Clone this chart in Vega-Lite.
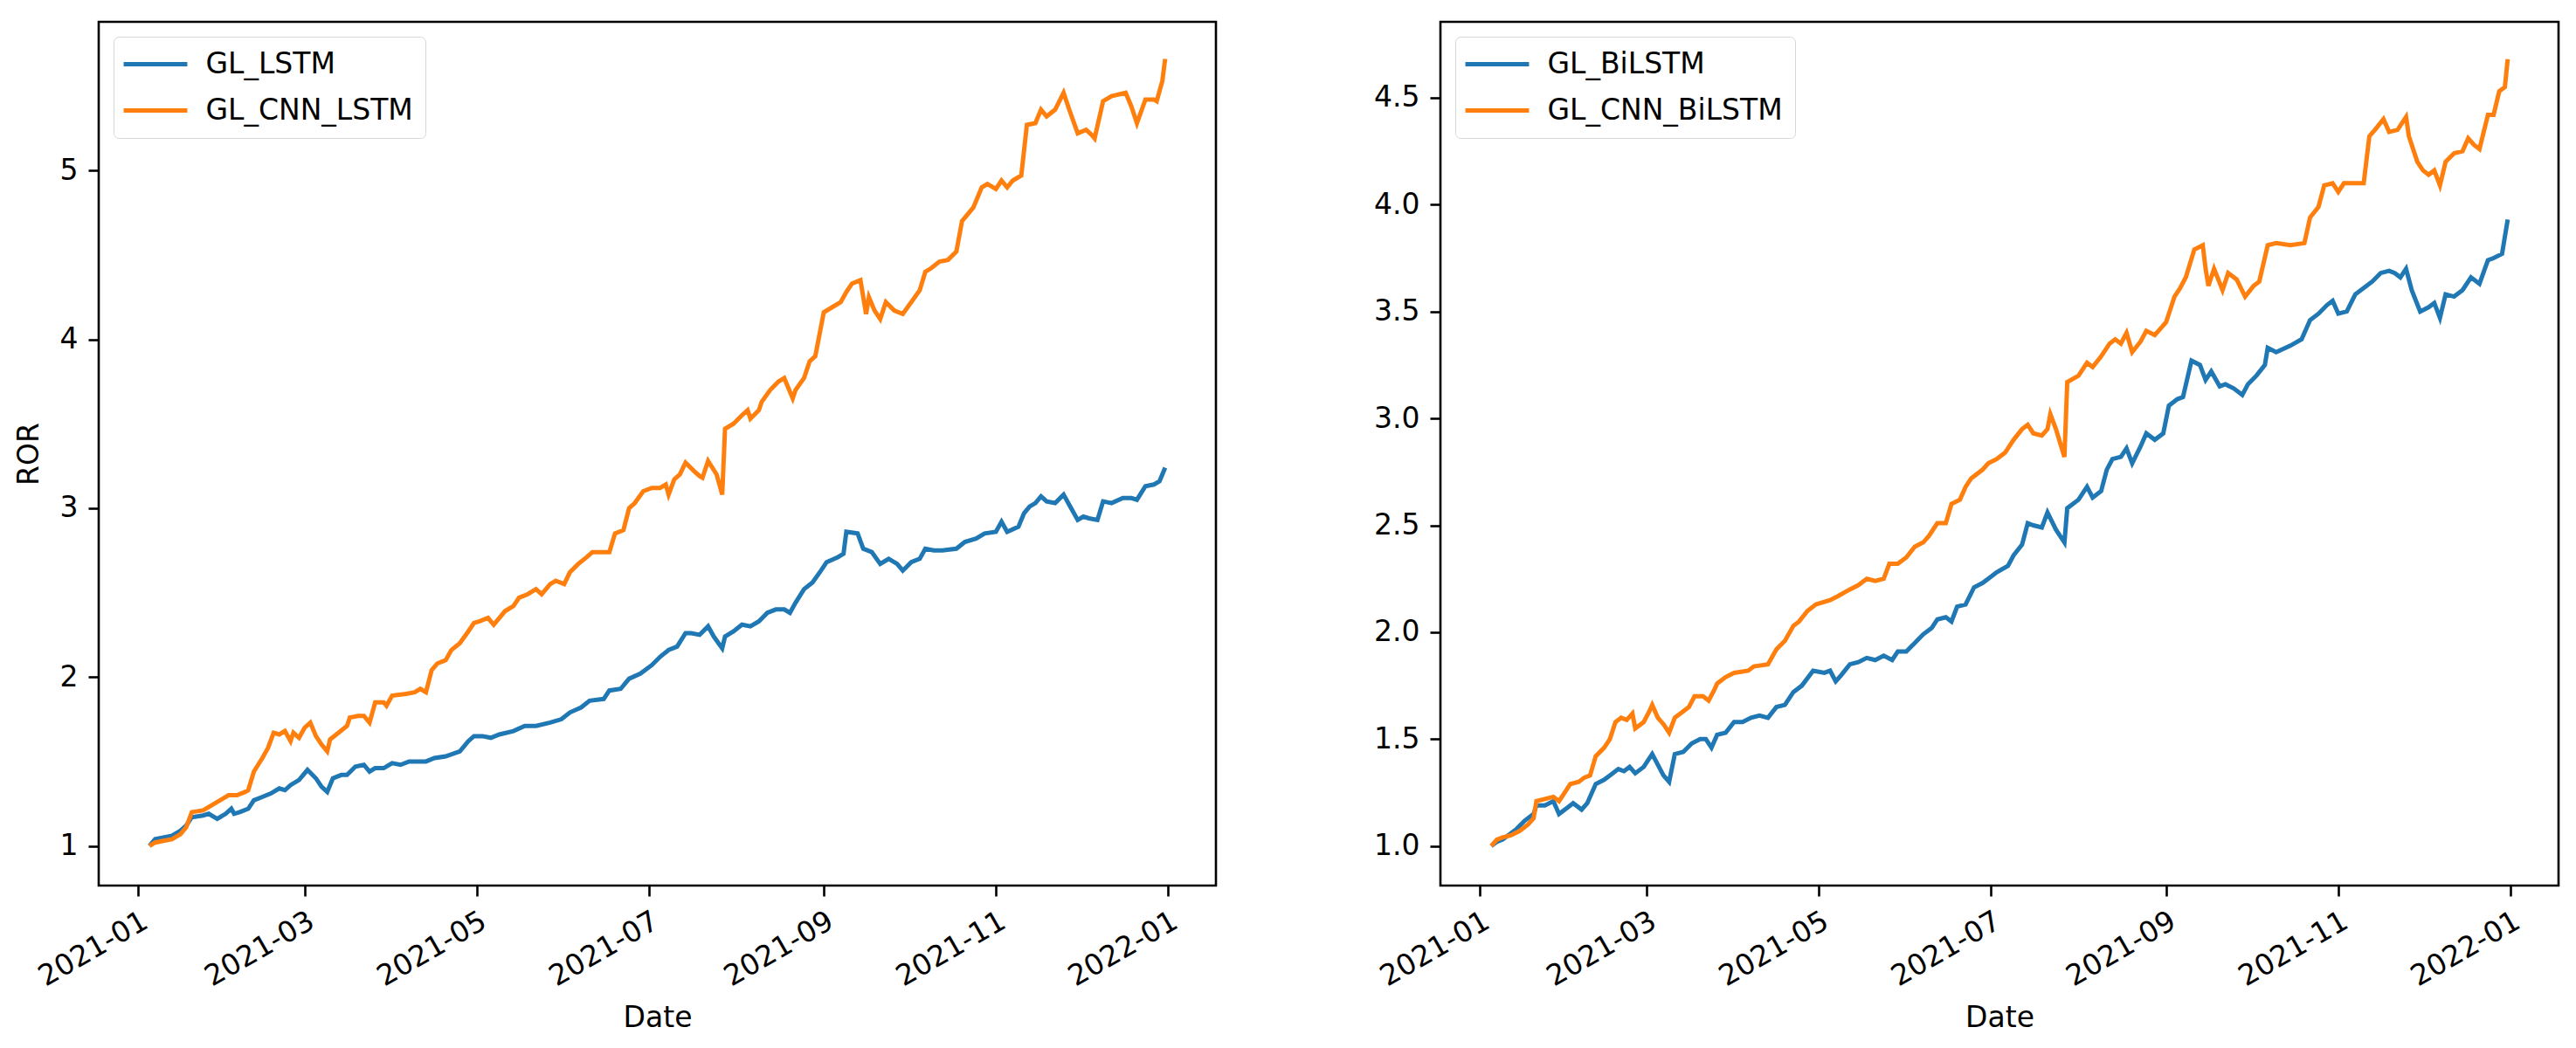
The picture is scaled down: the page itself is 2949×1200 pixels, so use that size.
{
  "$schema": "https://vega.github.io/schema/vega-lite/v6.json",
  "background": "white",
  "padding": {"left": 15, "top": 23, "right": 0, "bottom": 0},
  "config": {
    "font": "DejaVu Sans",
    "view": {"stroke": "black", "strokeWidth": 2.6},
    "axis": {"domain": false, "grid": false, "tickColor": "black", "tickWidth": 2.6, "tickSize": 12, "labelFont": "DejaVu Sans", "labelFontSize": 33, "labelColor": "black", "titleFont": "DejaVu Sans", "titleFontSize": 33, "titleFontWeight": "normal", "titleColor": "black", "labelPadding": 12},
    "legend": {"title": null, "orient": "top-left", "offset": 17, "symbolType": "M-2.43,0H2.43", "symbolStrokeWidth": 5, "symbolSize": 900, "symbolOffset": 16.5, "labelFont": "DejaVu Sans", "labelFontSize": 33, "labelColor": "black", "labelLimit": 1000, "strokeColor": "#d6d6d6", "fillColor": "white", "padding": 14, "cornerRadius": 6, "rowPadding": 18, "labelOffset": 40}
  },
  "datasets": {
    "left": [
      {"date":"2021-01-05","model":"GL_LSTM","ror":1.00},{"date":"2021-01-07","model":"GL_LSTM","ror":1.04},{"date":"2021-01-10","model":"GL_LSTM","ror":1.05},{"date":"2021-01-13","model":"GL_LSTM","ror":1.06},{"date":"2021-01-16","model":"GL_LSTM","ror":1.09},{"date":"2021-01-18","model":"GL_LSTM","ror":1.12},{"date":"2021-01-20","model":"GL_LSTM","ror":1.17},{"date":"2021-01-24","model":"GL_LSTM","ror":1.18},{"date":"2021-01-26","model":"GL_LSTM","ror":1.19},{"date":"2021-01-29","model":"GL_LSTM","ror":1.16},
      {"date":"2021-02-01","model":"GL_LSTM","ror":1.19},{"date":"2021-02-03","model":"GL_LSTM","ror":1.22},{"date":"2021-02-04","model":"GL_LSTM","ror":1.19},{"date":"2021-02-06","model":"GL_LSTM","ror":1.20},{"date":"2021-02-09","model":"GL_LSTM","ror":1.22},{"date":"2021-02-11","model":"GL_LSTM","ror":1.27},{"date":"2021-02-14","model":"GL_LSTM","ror":1.29},{"date":"2021-02-17","model":"GL_LSTM","ror":1.31},{"date":"2021-02-20","model":"GL_LSTM","ror":1.34},{"date":"2021-02-22","model":"GL_LSTM","ror":1.33},{"date":"2021-02-24","model":"GL_LSTM","ror":1.36},{"date":"2021-02-27","model":"GL_LSTM","ror":1.39},
      {"date":"2021-03-02","model":"GL_LSTM","ror":1.45},{"date":"2021-03-05","model":"GL_LSTM","ror":1.40},{"date":"2021-03-07","model":"GL_LSTM","ror":1.35},{"date":"2021-03-09","model":"GL_LSTM","ror":1.32},{"date":"2021-03-11","model":"GL_LSTM","ror":1.40},{"date":"2021-03-14","model":"GL_LSTM","ror":1.42},{"date":"2021-03-16","model":"GL_LSTM","ror":1.42},{"date":"2021-03-19","model":"GL_LSTM","ror":1.47},{"date":"2021-03-22","model":"GL_LSTM","ror":1.48},{"date":"2021-03-24","model":"GL_LSTM","ror":1.44},{"date":"2021-03-26","model":"GL_LSTM","ror":1.46},{"date":"2021-03-29","model":"GL_LSTM","ror":1.46},
      {"date":"2021-04-01","model":"GL_LSTM","ror":1.49},{"date":"2021-04-04","model":"GL_LSTM","ror":1.48},{"date":"2021-04-07","model":"GL_LSTM","ror":1.50},{"date":"2021-04-10","model":"GL_LSTM","ror":1.50},{"date":"2021-04-13","model":"GL_LSTM","ror":1.50},{"date":"2021-04-16","model":"GL_LSTM","ror":1.52},{"date":"2021-04-20","model":"GL_LSTM","ror":1.53},{"date":"2021-04-25","model":"GL_LSTM","ror":1.56},{"date":"2021-04-28","model":"GL_LSTM","ror":1.62},{"date":"2021-04-30","model":"GL_LSTM","ror":1.65},
      {"date":"2021-05-03","model":"GL_LSTM","ror":1.65},{"date":"2021-05-06","model":"GL_LSTM","ror":1.64},{"date":"2021-05-09","model":"GL_LSTM","ror":1.66},{"date":"2021-05-14","model":"GL_LSTM","ror":1.68},{"date":"2021-05-18","model":"GL_LSTM","ror":1.71},{"date":"2021-05-22","model":"GL_LSTM","ror":1.71},{"date":"2021-05-27","model":"GL_LSTM","ror":1.73},{"date":"2021-05-31","model":"GL_LSTM","ror":1.75},
      {"date":"2021-06-03","model":"GL_LSTM","ror":1.79},{"date":"2021-06-07","model":"GL_LSTM","ror":1.82},{"date":"2021-06-10","model":"GL_LSTM","ror":1.86},{"date":"2021-06-15","model":"GL_LSTM","ror":1.87},{"date":"2021-06-17","model":"GL_LSTM","ror":1.92},{"date":"2021-06-21","model":"GL_LSTM","ror":1.93},{"date":"2021-06-24","model":"GL_LSTM","ror":1.99},{"date":"2021-06-28","model":"GL_LSTM","ror":2.02},
      {"date":"2021-07-02","model":"GL_LSTM","ror":2.07},{"date":"2021-07-05","model":"GL_LSTM","ror":2.12},{"date":"2021-07-08","model":"GL_LSTM","ror":2.16},{"date":"2021-07-11","model":"GL_LSTM","ror":2.18},{"date":"2021-07-14","model":"GL_LSTM","ror":2.26},{"date":"2021-07-16","model":"GL_LSTM","ror":2.26},{"date":"2021-07-19","model":"GL_LSTM","ror":2.25},{"date":"2021-07-22","model":"GL_LSTM","ror":2.30},{"date":"2021-07-24","model":"GL_LSTM","ror":2.24},{"date":"2021-07-27","model":"GL_LSTM","ror":2.17},{"date":"2021-07-28","model":"GL_LSTM","ror":2.24},{"date":"2021-07-31","model":"GL_LSTM","ror":2.27},
      {"date":"2021-08-03","model":"GL_LSTM","ror":2.31},{"date":"2021-08-06","model":"GL_LSTM","ror":2.30},{"date":"2021-08-09","model":"GL_LSTM","ror":2.33},{"date":"2021-08-12","model":"GL_LSTM","ror":2.38},{"date":"2021-08-15","model":"GL_LSTM","ror":2.40},{"date":"2021-08-18","model":"GL_LSTM","ror":2.40},{"date":"2021-08-20","model":"GL_LSTM","ror":2.38},{"date":"2021-08-22","model":"GL_LSTM","ror":2.44},{"date":"2021-08-25","model":"GL_LSTM","ror":2.52},{"date":"2021-08-28","model":"GL_LSTM","ror":2.56},{"date":"2021-08-31","model":"GL_LSTM","ror":2.63},
      {"date":"2021-09-02","model":"GL_LSTM","ror":2.68},{"date":"2021-09-06","model":"GL_LSTM","ror":2.71},{"date":"2021-09-08","model":"GL_LSTM","ror":2.73},{"date":"2021-09-09","model":"GL_LSTM","ror":2.86},{"date":"2021-09-13","model":"GL_LSTM","ror":2.85},{"date":"2021-09-15","model":"GL_LSTM","ror":2.76},{"date":"2021-09-18","model":"GL_LSTM","ror":2.74},{"date":"2021-09-21","model":"GL_LSTM","ror":2.67},{"date":"2021-09-24","model":"GL_LSTM","ror":2.70},{"date":"2021-09-27","model":"GL_LSTM","ror":2.67},{"date":"2021-09-29","model":"GL_LSTM","ror":2.63},
      {"date":"2021-10-02","model":"GL_LSTM","ror":2.68},{"date":"2021-10-05","model":"GL_LSTM","ror":2.70},{"date":"2021-10-07","model":"GL_LSTM","ror":2.76},{"date":"2021-10-10","model":"GL_LSTM","ror":2.75},{"date":"2021-10-13","model":"GL_LSTM","ror":2.75},{"date":"2021-10-18","model":"GL_LSTM","ror":2.76},{"date":"2021-10-21","model":"GL_LSTM","ror":2.80},{"date":"2021-10-25","model":"GL_LSTM","ror":2.82},{"date":"2021-10-28","model":"GL_LSTM","ror":2.85},
      {"date":"2021-11-01","model":"GL_LSTM","ror":2.86},{"date":"2021-11-03","model":"GL_LSTM","ror":2.92},{"date":"2021-11-05","model":"GL_LSTM","ror":2.86},{"date":"2021-11-09","model":"GL_LSTM","ror":2.89},{"date":"2021-11-11","model":"GL_LSTM","ror":2.97},{"date":"2021-11-13","model":"GL_LSTM","ror":3.01},{"date":"2021-11-15","model":"GL_LSTM","ror":3.03},{"date":"2021-11-17","model":"GL_LSTM","ror":3.07},{"date":"2021-11-19","model":"GL_LSTM","ror":3.04},{"date":"2021-11-22","model":"GL_LSTM","ror":3.03},{"date":"2021-11-25","model":"GL_LSTM","ror":3.08},{"date":"2021-11-27","model":"GL_LSTM","ror":3.02},{"date":"2021-11-30","model":"GL_LSTM","ror":2.93},
      {"date":"2021-12-02","model":"GL_LSTM","ror":2.95},{"date":"2021-12-04","model":"GL_LSTM","ror":2.94},{"date":"2021-12-07","model":"GL_LSTM","ror":2.93},{"date":"2021-12-09","model":"GL_LSTM","ror":3.04},{"date":"2021-12-12","model":"GL_LSTM","ror":3.03},{"date":"2021-12-16","model":"GL_LSTM","ror":3.06},{"date":"2021-12-19","model":"GL_LSTM","ror":3.06},{"date":"2021-12-21","model":"GL_LSTM","ror":3.05},{"date":"2021-12-24","model":"GL_LSTM","ror":3.13},{"date":"2021-12-27","model":"GL_LSTM","ror":3.14},{"date":"2021-12-29","model":"GL_LSTM","ror":3.16},{"date":"2021-12-31","model":"GL_LSTM","ror":3.24},

      {"date":"2021-01-05","model":"GL_CNN_LSTM","ror":1.00},{"date":"2021-01-07","model":"GL_CNN_LSTM","ror":1.02},{"date":"2021-01-10","model":"GL_CNN_LSTM","ror":1.03},{"date":"2021-01-13","model":"GL_CNN_LSTM","ror":1.04},{"date":"2021-01-16","model":"GL_CNN_LSTM","ror":1.07},{"date":"2021-01-18","model":"GL_CNN_LSTM","ror":1.11},{"date":"2021-01-20","model":"GL_CNN_LSTM","ror":1.20},{"date":"2021-01-24","model":"GL_CNN_LSTM","ror":1.21},{"date":"2021-01-27","model":"GL_CNN_LSTM","ror":1.24},{"date":"2021-01-30","model":"GL_CNN_LSTM","ror":1.27},
      {"date":"2021-02-02","model":"GL_CNN_LSTM","ror":1.30},{"date":"2021-02-05","model":"GL_CNN_LSTM","ror":1.30},{"date":"2021-02-08","model":"GL_CNN_LSTM","ror":1.32},{"date":"2021-02-09","model":"GL_CNN_LSTM","ror":1.33},{"date":"2021-02-11","model":"GL_CNN_LSTM","ror":1.44},{"date":"2021-02-14","model":"GL_CNN_LSTM","ror":1.52},{"date":"2021-02-16","model":"GL_CNN_LSTM","ror":1.58},{"date":"2021-02-18","model":"GL_CNN_LSTM","ror":1.67},{"date":"2021-02-20","model":"GL_CNN_LSTM","ror":1.66},{"date":"2021-02-22","model":"GL_CNN_LSTM","ror":1.68},{"date":"2021-02-24","model":"GL_CNN_LSTM","ror":1.62},{"date":"2021-02-25","model":"GL_CNN_LSTM","ror":1.67},{"date":"2021-02-27","model":"GL_CNN_LSTM","ror":1.64},
      {"date":"2021-03-01","model":"GL_CNN_LSTM","ror":1.70},{"date":"2021-03-03","model":"GL_CNN_LSTM","ror":1.73},{"date":"2021-03-05","model":"GL_CNN_LSTM","ror":1.65},{"date":"2021-03-07","model":"GL_CNN_LSTM","ror":1.60},{"date":"2021-03-09","model":"GL_CNN_LSTM","ror":1.56},{"date":"2021-03-10","model":"GL_CNN_LSTM","ror":1.63},{"date":"2021-03-13","model":"GL_CNN_LSTM","ror":1.67},{"date":"2021-03-16","model":"GL_CNN_LSTM","ror":1.71},{"date":"2021-03-17","model":"GL_CNN_LSTM","ror":1.76},{"date":"2021-03-20","model":"GL_CNN_LSTM","ror":1.77},{"date":"2021-03-22","model":"GL_CNN_LSTM","ror":1.77},{"date":"2021-03-24","model":"GL_CNN_LSTM","ror":1.73},{"date":"2021-03-26","model":"GL_CNN_LSTM","ror":1.85},{"date":"2021-03-29","model":"GL_CNN_LSTM","ror":1.85},{"date":"2021-03-30","model":"GL_CNN_LSTM","ror":1.83},
      {"date":"2021-04-01","model":"GL_CNN_LSTM","ror":1.89},{"date":"2021-04-06","model":"GL_CNN_LSTM","ror":1.90},{"date":"2021-04-09","model":"GL_CNN_LSTM","ror":1.91},{"date":"2021-04-11","model":"GL_CNN_LSTM","ror":1.93},{"date":"2021-04-13","model":"GL_CNN_LSTM","ror":1.91},{"date":"2021-04-15","model":"GL_CNN_LSTM","ror":2.04},{"date":"2021-04-17","model":"GL_CNN_LSTM","ror":2.08},{"date":"2021-04-20","model":"GL_CNN_LSTM","ror":2.10},{"date":"2021-04-22","model":"GL_CNN_LSTM","ror":2.16},{"date":"2021-04-25","model":"GL_CNN_LSTM","ror":2.20},{"date":"2021-04-28","model":"GL_CNN_LSTM","ror":2.27},{"date":"2021-04-30","model":"GL_CNN_LSTM","ror":2.32},
      {"date":"2021-05-02","model":"GL_CNN_LSTM","ror":2.33},{"date":"2021-05-05","model":"GL_CNN_LSTM","ror":2.35},{"date":"2021-05-07","model":"GL_CNN_LSTM","ror":2.31},{"date":"2021-05-09","model":"GL_CNN_LSTM","ror":2.35},{"date":"2021-05-11","model":"GL_CNN_LSTM","ror":2.39},{"date":"2021-05-14","model":"GL_CNN_LSTM","ror":2.42},{"date":"2021-05-16","model":"GL_CNN_LSTM","ror":2.47},{"date":"2021-05-19","model":"GL_CNN_LSTM","ror":2.49},{"date":"2021-05-22","model":"GL_CNN_LSTM","ror":2.52},{"date":"2021-05-24","model":"GL_CNN_LSTM","ror":2.49},{"date":"2021-05-27","model":"GL_CNN_LSTM","ror":2.55},{"date":"2021-05-29","model":"GL_CNN_LSTM","ror":2.57},
      {"date":"2021-06-01","model":"GL_CNN_LSTM","ror":2.55},{"date":"2021-06-03","model":"GL_CNN_LSTM","ror":2.62},{"date":"2021-06-06","model":"GL_CNN_LSTM","ror":2.67},{"date":"2021-06-09","model":"GL_CNN_LSTM","ror":2.71},{"date":"2021-06-11","model":"GL_CNN_LSTM","ror":2.74},{"date":"2021-06-15","model":"GL_CNN_LSTM","ror":2.74},{"date":"2021-06-17","model":"GL_CNN_LSTM","ror":2.74},{"date":"2021-06-19","model":"GL_CNN_LSTM","ror":2.85},{"date":"2021-06-22","model":"GL_CNN_LSTM","ror":2.87},{"date":"2021-06-24","model":"GL_CNN_LSTM","ror":3.00},{"date":"2021-06-26","model":"GL_CNN_LSTM","ror":3.03},{"date":"2021-06-29","model":"GL_CNN_LSTM","ror":3.10},
      {"date":"2021-07-02","model":"GL_CNN_LSTM","ror":3.12},{"date":"2021-07-05","model":"GL_CNN_LSTM","ror":3.12},{"date":"2021-07-07","model":"GL_CNN_LSTM","ror":3.14},{"date":"2021-07-08","model":"GL_CNN_LSTM","ror":3.08},{"date":"2021-07-10","model":"GL_CNN_LSTM","ror":3.17},{"date":"2021-07-12","model":"GL_CNN_LSTM","ror":3.20},{"date":"2021-07-14","model":"GL_CNN_LSTM","ror":3.27},{"date":"2021-07-17","model":"GL_CNN_LSTM","ror":3.22},{"date":"2021-07-19","model":"GL_CNN_LSTM","ror":3.19},{"date":"2021-07-20","model":"GL_CNN_LSTM","ror":3.18},{"date":"2021-07-22","model":"GL_CNN_LSTM","ror":3.28},{"date":"2021-07-25","model":"GL_CNN_LSTM","ror":3.20},{"date":"2021-07-27","model":"GL_CNN_LSTM","ror":3.08},{"date":"2021-07-28","model":"GL_CNN_LSTM","ror":3.47},{"date":"2021-07-31","model":"GL_CNN_LSTM","ror":3.50},
      {"date":"2021-08-03","model":"GL_CNN_LSTM","ror":3.55},{"date":"2021-08-05","model":"GL_CNN_LSTM","ror":3.58},{"date":"2021-08-06","model":"GL_CNN_LSTM","ror":3.53},{"date":"2021-08-09","model":"GL_CNN_LSTM","ror":3.58},{"date":"2021-08-10","model":"GL_CNN_LSTM","ror":3.63},{"date":"2021-08-13","model":"GL_CNN_LSTM","ror":3.70},{"date":"2021-08-16","model":"GL_CNN_LSTM","ror":3.75},{"date":"2021-08-18","model":"GL_CNN_LSTM","ror":3.77},{"date":"2021-08-19","model":"GL_CNN_LSTM","ror":3.73},{"date":"2021-08-21","model":"GL_CNN_LSTM","ror":3.65},{"date":"2021-08-22","model":"GL_CNN_LSTM","ror":3.70},{"date":"2021-08-25","model":"GL_CNN_LSTM","ror":3.77},{"date":"2021-08-27","model":"GL_CNN_LSTM","ror":3.87},{"date":"2021-08-29","model":"GL_CNN_LSTM","ror":3.90},
      {"date":"2021-09-01","model":"GL_CNN_LSTM","ror":4.16},{"date":"2021-09-04","model":"GL_CNN_LSTM","ror":4.19},{"date":"2021-09-07","model":"GL_CNN_LSTM","ror":4.22},{"date":"2021-09-09","model":"GL_CNN_LSTM","ror":4.28},{"date":"2021-09-11","model":"GL_CNN_LSTM","ror":4.33},{"date":"2021-09-14","model":"GL_CNN_LSTM","ror":4.35},{"date":"2021-09-16","model":"GL_CNN_LSTM","ror":4.15},{"date":"2021-09-17","model":"GL_CNN_LSTM","ror":4.25},{"date":"2021-09-19","model":"GL_CNN_LSTM","ror":4.17},{"date":"2021-09-21","model":"GL_CNN_LSTM","ror":4.12},{"date":"2021-09-23","model":"GL_CNN_LSTM","ror":4.22},{"date":"2021-09-26","model":"GL_CNN_LSTM","ror":4.17},{"date":"2021-09-29","model":"GL_CNN_LSTM","ror":4.15},
      {"date":"2021-10-02","model":"GL_CNN_LSTM","ror":4.22},{"date":"2021-10-05","model":"GL_CNN_LSTM","ror":4.29},{"date":"2021-10-07","model":"GL_CNN_LSTM","ror":4.40},{"date":"2021-10-09","model":"GL_CNN_LSTM","ror":4.42},{"date":"2021-10-12","model":"GL_CNN_LSTM","ror":4.46},{"date":"2021-10-15","model":"GL_CNN_LSTM","ror":4.47},{"date":"2021-10-18","model":"GL_CNN_LSTM","ror":4.52},{"date":"2021-10-20","model":"GL_CNN_LSTM","ror":4.70},{"date":"2021-10-24","model":"GL_CNN_LSTM","ror":4.78},{"date":"2021-10-27","model":"GL_CNN_LSTM","ror":4.90},{"date":"2021-10-29","model":"GL_CNN_LSTM","ror":4.92},
      {"date":"2021-11-01","model":"GL_CNN_LSTM","ror":4.89},{"date":"2021-11-03","model":"GL_CNN_LSTM","ror":4.94},{"date":"2021-11-05","model":"GL_CNN_LSTM","ror":4.90},{"date":"2021-11-07","model":"GL_CNN_LSTM","ror":4.94},{"date":"2021-11-10","model":"GL_CNN_LSTM","ror":4.97},{"date":"2021-11-12","model":"GL_CNN_LSTM","ror":5.27},{"date":"2021-11-15","model":"GL_CNN_LSTM","ror":5.28},{"date":"2021-11-17","model":"GL_CNN_LSTM","ror":5.36},{"date":"2021-11-19","model":"GL_CNN_LSTM","ror":5.32},{"date":"2021-11-22","model":"GL_CNN_LSTM","ror":5.36},{"date":"2021-11-25","model":"GL_CNN_LSTM","ror":5.46},{"date":"2021-11-27","model":"GL_CNN_LSTM","ror":5.36},{"date":"2021-11-30","model":"GL_CNN_LSTM","ror":5.22},
      {"date":"2021-12-03","model":"GL_CNN_LSTM","ror":5.24},{"date":"2021-12-05","model":"GL_CNN_LSTM","ror":5.21},{"date":"2021-12-06","model":"GL_CNN_LSTM","ror":5.19},{"date":"2021-12-09","model":"GL_CNN_LSTM","ror":5.41},{"date":"2021-12-12","model":"GL_CNN_LSTM","ror":5.44},{"date":"2021-12-17","model":"GL_CNN_LSTM","ror":5.46},{"date":"2021-12-19","model":"GL_CNN_LSTM","ror":5.38},{"date":"2021-12-21","model":"GL_CNN_LSTM","ror":5.28},{"date":"2021-12-24","model":"GL_CNN_LSTM","ror":5.42},{"date":"2021-12-27","model":"GL_CNN_LSTM","ror":5.42},{"date":"2021-12-28","model":"GL_CNN_LSTM","ror":5.41},{"date":"2021-12-30","model":"GL_CNN_LSTM","ror":5.53},{"date":"2021-12-31","model":"GL_CNN_LSTM","ror":5.66}
    ],
    "right": [
      {"date":"2021-01-05","model":"GL_BiLSTM","ror":1.00},{"date":"2021-01-07","model":"GL_BiLSTM","ror":1.02},{"date":"2021-01-09","model":"GL_BiLSTM","ror":1.03},{"date":"2021-01-11","model":"GL_BiLSTM","ror":1.05},{"date":"2021-01-14","model":"GL_BiLSTM","ror":1.08},{"date":"2021-01-17","model":"GL_BiLSTM","ror":1.12},{"date":"2021-01-20","model":"GL_BiLSTM","ror":1.15},{"date":"2021-01-21","model":"GL_BiLSTM","ror":1.19},{"date":"2021-01-24","model":"GL_BiLSTM","ror":1.19},{"date":"2021-01-27","model":"GL_BiLSTM","ror":1.21},{"date":"2021-01-29","model":"GL_BiLSTM","ror":1.15},
      {"date":"2021-02-01","model":"GL_BiLSTM","ror":1.18},{"date":"2021-02-03","model":"GL_BiLSTM","ror":1.20},{"date":"2021-02-06","model":"GL_BiLSTM","ror":1.17},{"date":"2021-02-08","model":"GL_BiLSTM","ror":1.20},{"date":"2021-02-11","model":"GL_BiLSTM","ror":1.29},{"date":"2021-02-14","model":"GL_BiLSTM","ror":1.31},{"date":"2021-02-16","model":"GL_BiLSTM","ror":1.33},{"date":"2021-02-19","model":"GL_BiLSTM","ror":1.36},{"date":"2021-02-21","model":"GL_BiLSTM","ror":1.35},{"date":"2021-02-23","model":"GL_BiLSTM","ror":1.37},{"date":"2021-02-25","model":"GL_BiLSTM","ror":1.34},{"date":"2021-02-28","model":"GL_BiLSTM","ror":1.37},
      {"date":"2021-03-03","model":"GL_BiLSTM","ror":1.43},{"date":"2021-03-05","model":"GL_BiLSTM","ror":1.38},{"date":"2021-03-07","model":"GL_BiLSTM","ror":1.33},{"date":"2021-03-09","model":"GL_BiLSTM","ror":1.30},{"date":"2021-03-11","model":"GL_BiLSTM","ror":1.43},{"date":"2021-03-14","model":"GL_BiLSTM","ror":1.44},{"date":"2021-03-17","model":"GL_BiLSTM","ror":1.48},{"date":"2021-03-20","model":"GL_BiLSTM","ror":1.50},{"date":"2021-03-22","model":"GL_BiLSTM","ror":1.50},{"date":"2021-03-24","model":"GL_BiLSTM","ror":1.46},{"date":"2021-03-26","model":"GL_BiLSTM","ror":1.52},{"date":"2021-03-29","model":"GL_BiLSTM","ror":1.53},
      {"date":"2021-04-01","model":"GL_BiLSTM","ror":1.58},{"date":"2021-04-04","model":"GL_BiLSTM","ror":1.58},{"date":"2021-04-07","model":"GL_BiLSTM","ror":1.60},{"date":"2021-04-10","model":"GL_BiLSTM","ror":1.61},{"date":"2021-04-13","model":"GL_BiLSTM","ror":1.60},{"date":"2021-04-16","model":"GL_BiLSTM","ror":1.65},{"date":"2021-04-19","model":"GL_BiLSTM","ror":1.66},{"date":"2021-04-22","model":"GL_BiLSTM","ror":1.72},{"date":"2021-04-25","model":"GL_BiLSTM","ror":1.75},{"date":"2021-04-29","model":"GL_BiLSTM","ror":1.82},
      {"date":"2021-05-03","model":"GL_BiLSTM","ror":1.81},{"date":"2021-05-05","model":"GL_BiLSTM","ror":1.82},{"date":"2021-05-07","model":"GL_BiLSTM","ror":1.77},{"date":"2021-05-09","model":"GL_BiLSTM","ror":1.80},{"date":"2021-05-12","model":"GL_BiLSTM","ror":1.85},{"date":"2021-05-15","model":"GL_BiLSTM","ror":1.86},{"date":"2021-05-18","model":"GL_BiLSTM","ror":1.88},{"date":"2021-05-21","model":"GL_BiLSTM","ror":1.87},{"date":"2021-05-24","model":"GL_BiLSTM","ror":1.89},{"date":"2021-05-27","model":"GL_BiLSTM","ror":1.87},{"date":"2021-05-29","model":"GL_BiLSTM","ror":1.91},
      {"date":"2021-06-01","model":"GL_BiLSTM","ror":1.91},{"date":"2021-06-04","model":"GL_BiLSTM","ror":1.95},{"date":"2021-06-07","model":"GL_BiLSTM","ror":1.99},{"date":"2021-06-10","model":"GL_BiLSTM","ror":2.02},{"date":"2021-06-12","model":"GL_BiLSTM","ror":2.06},{"date":"2021-06-15","model":"GL_BiLSTM","ror":2.07},{"date":"2021-06-17","model":"GL_BiLSTM","ror":2.05},{"date":"2021-06-19","model":"GL_BiLSTM","ror":2.12},{"date":"2021-06-22","model":"GL_BiLSTM","ror":2.13},{"date":"2021-06-25","model":"GL_BiLSTM","ror":2.21},{"date":"2021-06-28","model":"GL_BiLSTM","ror":2.23},{"date":"2021-06-30","model":"GL_BiLSTM","ror":2.25},
      {"date":"2021-07-03","model":"GL_BiLSTM","ror":2.28},{"date":"2021-07-07","model":"GL_BiLSTM","ror":2.31},{"date":"2021-07-09","model":"GL_BiLSTM","ror":2.36},{"date":"2021-07-12","model":"GL_BiLSTM","ror":2.41},{"date":"2021-07-14","model":"GL_BiLSTM","ror":2.51},{"date":"2021-07-16","model":"GL_BiLSTM","ror":2.50},{"date":"2021-07-19","model":"GL_BiLSTM","ror":2.49},{"date":"2021-07-21","model":"GL_BiLSTM","ror":2.56},{"date":"2021-07-24","model":"GL_BiLSTM","ror":2.48},{"date":"2021-07-27","model":"GL_BiLSTM","ror":2.42},{"date":"2021-07-28","model":"GL_BiLSTM","ror":2.58},
      {"date":"2021-08-01","model":"GL_BiLSTM","ror":2.62},{"date":"2021-08-04","model":"GL_BiLSTM","ror":2.68},{"date":"2021-08-06","model":"GL_BiLSTM","ror":2.63},{"date":"2021-08-09","model":"GL_BiLSTM","ror":2.66},{"date":"2021-08-11","model":"GL_BiLSTM","ror":2.76},{"date":"2021-08-13","model":"GL_BiLSTM","ror":2.81},{"date":"2021-08-16","model":"GL_BiLSTM","ror":2.82},{"date":"2021-08-18","model":"GL_BiLSTM","ror":2.86},{"date":"2021-08-20","model":"GL_BiLSTM","ror":2.79},{"date":"2021-08-23","model":"GL_BiLSTM","ror":2.87},{"date":"2021-08-25","model":"GL_BiLSTM","ror":2.93},{"date":"2021-08-28","model":"GL_BiLSTM","ror":2.90},{"date":"2021-08-31","model":"GL_BiLSTM","ror":2.93},
      {"date":"2021-09-02","model":"GL_BiLSTM","ror":3.06},{"date":"2021-09-05","model":"GL_BiLSTM","ror":3.09},{"date":"2021-09-07","model":"GL_BiLSTM","ror":3.10},{"date":"2021-09-10","model":"GL_BiLSTM","ror":3.27},{"date":"2021-09-13","model":"GL_BiLSTM","ror":3.25},{"date":"2021-09-15","model":"GL_BiLSTM","ror":3.18},{"date":"2021-09-17","model":"GL_BiLSTM","ror":3.22},{"date":"2021-09-20","model":"GL_BiLSTM","ror":3.15},{"date":"2021-09-22","model":"GL_BiLSTM","ror":3.16},{"date":"2021-09-25","model":"GL_BiLSTM","ror":3.14},{"date":"2021-09-28","model":"GL_BiLSTM","ror":3.11},{"date":"2021-09-30","model":"GL_BiLSTM","ror":3.16},
      {"date":"2021-10-03","model":"GL_BiLSTM","ror":3.20},{"date":"2021-10-06","model":"GL_BiLSTM","ror":3.25},{"date":"2021-10-07","model":"GL_BiLSTM","ror":3.33},{"date":"2021-10-10","model":"GL_BiLSTM","ror":3.31},{"date":"2021-10-15","model":"GL_BiLSTM","ror":3.34},{"date":"2021-10-19","model":"GL_BiLSTM","ror":3.37},{"date":"2021-10-22","model":"GL_BiLSTM","ror":3.46},{"date":"2021-10-25","model":"GL_BiLSTM","ror":3.49},{"date":"2021-10-28","model":"GL_BiLSTM","ror":3.53},{"date":"2021-10-30","model":"GL_BiLSTM","ror":3.55},
      {"date":"2021-11-01","model":"GL_BiLSTM","ror":3.49},{"date":"2021-11-04","model":"GL_BiLSTM","ror":3.50},{"date":"2021-11-07","model":"GL_BiLSTM","ror":3.58},{"date":"2021-11-10","model":"GL_BiLSTM","ror":3.61},{"date":"2021-11-13","model":"GL_BiLSTM","ror":3.64},{"date":"2021-11-16","model":"GL_BiLSTM","ror":3.68},{"date":"2021-11-19","model":"GL_BiLSTM","ror":3.69},{"date":"2021-11-21","model":"GL_BiLSTM","ror":3.68},{"date":"2021-11-23","model":"GL_BiLSTM","ror":3.66},{"date":"2021-11-25","model":"GL_BiLSTM","ror":3.70},{"date":"2021-11-27","model":"GL_BiLSTM","ror":3.60},{"date":"2021-11-30","model":"GL_BiLSTM","ror":3.50},
      {"date":"2021-12-03","model":"GL_BiLSTM","ror":3.52},{"date":"2021-12-05","model":"GL_BiLSTM","ror":3.54},{"date":"2021-12-07","model":"GL_BiLSTM","ror":3.47},{"date":"2021-12-09","model":"GL_BiLSTM","ror":3.58},{"date":"2021-12-12","model":"GL_BiLSTM","ror":3.57},{"date":"2021-12-15","model":"GL_BiLSTM","ror":3.60},{"date":"2021-12-18","model":"GL_BiLSTM","ror":3.66},{"date":"2021-12-21","model":"GL_BiLSTM","ror":3.63},{"date":"2021-12-24","model":"GL_BiLSTM","ror":3.74},{"date":"2021-12-26","model":"GL_BiLSTM","ror":3.75},{"date":"2021-12-29","model":"GL_BiLSTM","ror":3.77},{"date":"2021-12-31","model":"GL_BiLSTM","ror":3.93},

      {"date":"2021-01-05","model":"GL_CNN_BiLSTM","ror":1.00},{"date":"2021-01-07","model":"GL_CNN_BiLSTM","ror":1.03},{"date":"2021-01-09","model":"GL_CNN_BiLSTM","ror":1.04},{"date":"2021-01-12","model":"GL_CNN_BiLSTM","ror":1.05},{"date":"2021-01-15","model":"GL_CNN_BiLSTM","ror":1.07},{"date":"2021-01-18","model":"GL_CNN_BiLSTM","ror":1.10},{"date":"2021-01-20","model":"GL_CNN_BiLSTM","ror":1.13},{"date":"2021-01-21","model":"GL_CNN_BiLSTM","ror":1.21},{"date":"2021-01-24","model":"GL_CNN_BiLSTM","ror":1.22},{"date":"2021-01-27","model":"GL_CNN_BiLSTM","ror":1.23},{"date":"2021-01-29","model":"GL_CNN_BiLSTM","ror":1.21},{"date":"2021-01-31","model":"GL_CNN_BiLSTM","ror":1.25},
      {"date":"2021-02-02","model":"GL_CNN_BiLSTM","ror":1.29},{"date":"2021-02-05","model":"GL_CNN_BiLSTM","ror":1.30},{"date":"2021-02-07","model":"GL_CNN_BiLSTM","ror":1.32},{"date":"2021-02-09","model":"GL_CNN_BiLSTM","ror":1.33},{"date":"2021-02-11","model":"GL_CNN_BiLSTM","ror":1.42},{"date":"2021-02-14","model":"GL_CNN_BiLSTM","ror":1.46},{"date":"2021-02-16","model":"GL_CNN_BiLSTM","ror":1.50},{"date":"2021-02-18","model":"GL_CNN_BiLSTM","ror":1.58},{"date":"2021-02-20","model":"GL_CNN_BiLSTM","ror":1.60},{"date":"2021-02-22","model":"GL_CNN_BiLSTM","ror":1.59},{"date":"2021-02-24","model":"GL_CNN_BiLSTM","ror":1.62},{"date":"2021-02-25","model":"GL_CNN_BiLSTM","ror":1.55},{"date":"2021-02-28","model":"GL_CNN_BiLSTM","ror":1.58},
      {"date":"2021-03-02","model":"GL_CNN_BiLSTM","ror":1.63},{"date":"2021-03-03","model":"GL_CNN_BiLSTM","ror":1.66},{"date":"2021-03-05","model":"GL_CNN_BiLSTM","ror":1.60},{"date":"2021-03-07","model":"GL_CNN_BiLSTM","ror":1.57},{"date":"2021-03-09","model":"GL_CNN_BiLSTM","ror":1.53},{"date":"2021-03-11","model":"GL_CNN_BiLSTM","ror":1.60},{"date":"2021-03-14","model":"GL_CNN_BiLSTM","ror":1.63},{"date":"2021-03-16","model":"GL_CNN_BiLSTM","ror":1.65},{"date":"2021-03-18","model":"GL_CNN_BiLSTM","ror":1.70},{"date":"2021-03-21","model":"GL_CNN_BiLSTM","ror":1.70},{"date":"2021-03-23","model":"GL_CNN_BiLSTM","ror":1.68},{"date":"2021-03-25","model":"GL_CNN_BiLSTM","ror":1.73},{"date":"2021-03-26","model":"GL_CNN_BiLSTM","ror":1.76},{"date":"2021-03-29","model":"GL_CNN_BiLSTM","ror":1.79},
      {"date":"2021-04-01","model":"GL_CNN_BiLSTM","ror":1.81},{"date":"2021-04-06","model":"GL_CNN_BiLSTM","ror":1.82},{"date":"2021-04-08","model":"GL_CNN_BiLSTM","ror":1.84},{"date":"2021-04-13","model":"GL_CNN_BiLSTM","ror":1.85},{"date":"2021-04-16","model":"GL_CNN_BiLSTM","ror":1.92},{"date":"2021-04-19","model":"GL_CNN_BiLSTM","ror":1.96},{"date":"2021-04-22","model":"GL_CNN_BiLSTM","ror":2.03},{"date":"2021-04-24","model":"GL_CNN_BiLSTM","ror":2.05},{"date":"2021-04-27","model":"GL_CNN_BiLSTM","ror":2.10},{"date":"2021-04-30","model":"GL_CNN_BiLSTM","ror":2.13},
      {"date":"2021-05-05","model":"GL_CNN_BiLSTM","ror":2.15},{"date":"2021-05-08","model":"GL_CNN_BiLSTM","ror":2.17},{"date":"2021-05-12","model":"GL_CNN_BiLSTM","ror":2.20},{"date":"2021-05-15","model":"GL_CNN_BiLSTM","ror":2.22},{"date":"2021-05-18","model":"GL_CNN_BiLSTM","ror":2.25},{"date":"2021-05-21","model":"GL_CNN_BiLSTM","ror":2.24},{"date":"2021-05-24","model":"GL_CNN_BiLSTM","ror":2.25},{"date":"2021-05-26","model":"GL_CNN_BiLSTM","ror":2.32},{"date":"2021-05-29","model":"GL_CNN_BiLSTM","ror":2.32},
      {"date":"2021-06-01","model":"GL_CNN_BiLSTM","ror":2.35},{"date":"2021-06-04","model":"GL_CNN_BiLSTM","ror":2.40},{"date":"2021-06-07","model":"GL_CNN_BiLSTM","ror":2.42},{"date":"2021-06-09","model":"GL_CNN_BiLSTM","ror":2.45},{"date":"2021-06-12","model":"GL_CNN_BiLSTM","ror":2.51},{"date":"2021-06-15","model":"GL_CNN_BiLSTM","ror":2.51},{"date":"2021-06-17","model":"GL_CNN_BiLSTM","ror":2.60},{"date":"2021-06-20","model":"GL_CNN_BiLSTM","ror":2.62},{"date":"2021-06-22","model":"GL_CNN_BiLSTM","ror":2.68},{"date":"2021-06-24","model":"GL_CNN_BiLSTM","ror":2.72},{"date":"2021-06-28","model":"GL_CNN_BiLSTM","ror":2.76},{"date":"2021-06-30","model":"GL_CNN_BiLSTM","ror":2.79},
      {"date":"2021-07-03","model":"GL_CNN_BiLSTM","ror":2.81},{"date":"2021-07-06","model":"GL_CNN_BiLSTM","ror":2.84},{"date":"2021-07-09","model":"GL_CNN_BiLSTM","ror":2.90},{"date":"2021-07-12","model":"GL_CNN_BiLSTM","ror":2.95},{"date":"2021-07-14","model":"GL_CNN_BiLSTM","ror":2.97},{"date":"2021-07-16","model":"GL_CNN_BiLSTM","ror":2.93},{"date":"2021-07-19","model":"GL_CNN_BiLSTM","ror":2.92},{"date":"2021-07-21","model":"GL_CNN_BiLSTM","ror":2.95},{"date":"2021-07-22","model":"GL_CNN_BiLSTM","ror":3.02},{"date":"2021-07-24","model":"GL_CNN_BiLSTM","ror":2.95},{"date":"2021-07-27","model":"GL_CNN_BiLSTM","ror":2.82},{"date":"2021-07-28","model":"GL_CNN_BiLSTM","ror":3.17},
      {"date":"2021-08-01","model":"GL_CNN_BiLSTM","ror":3.20},{"date":"2021-08-04","model":"GL_CNN_BiLSTM","ror":3.26},{"date":"2021-08-06","model":"GL_CNN_BiLSTM","ror":3.24},{"date":"2021-08-09","model":"GL_CNN_BiLSTM","ror":3.29},{"date":"2021-08-12","model":"GL_CNN_BiLSTM","ror":3.35},{"date":"2021-08-14","model":"GL_CNN_BiLSTM","ror":3.37},{"date":"2021-08-16","model":"GL_CNN_BiLSTM","ror":3.35},{"date":"2021-08-18","model":"GL_CNN_BiLSTM","ror":3.40},{"date":"2021-08-20","model":"GL_CNN_BiLSTM","ror":3.31},{"date":"2021-08-23","model":"GL_CNN_BiLSTM","ror":3.36},{"date":"2021-08-25","model":"GL_CNN_BiLSTM","ror":3.41},{"date":"2021-08-28","model":"GL_CNN_BiLSTM","ror":3.39},{"date":"2021-08-30","model":"GL_CNN_BiLSTM","ror":3.42},
      {"date":"2021-09-01","model":"GL_CNN_BiLSTM","ror":3.45},{"date":"2021-09-04","model":"GL_CNN_BiLSTM","ror":3.57},{"date":"2021-09-06","model":"GL_CNN_BiLSTM","ror":3.61},{"date":"2021-09-08","model":"GL_CNN_BiLSTM","ror":3.66},{"date":"2021-09-11","model":"GL_CNN_BiLSTM","ror":3.79},{"date":"2021-09-14","model":"GL_CNN_BiLSTM","ror":3.81},{"date":"2021-09-15","model":"GL_CNN_BiLSTM","ror":3.70},{"date":"2021-09-16","model":"GL_CNN_BiLSTM","ror":3.62},{"date":"2021-09-18","model":"GL_CNN_BiLSTM","ror":3.70},{"date":"2021-09-21","model":"GL_CNN_BiLSTM","ror":3.60},{"date":"2021-09-23","model":"GL_CNN_BiLSTM","ror":3.68},{"date":"2021-09-26","model":"GL_CNN_BiLSTM","ror":3.65},{"date":"2021-09-29","model":"GL_CNN_BiLSTM","ror":3.57},
      {"date":"2021-10-02","model":"GL_CNN_BiLSTM","ror":3.62},{"date":"2021-10-04","model":"GL_CNN_BiLSTM","ror":3.64},{"date":"2021-10-07","model":"GL_CNN_BiLSTM","ror":3.81},{"date":"2021-10-10","model":"GL_CNN_BiLSTM","ror":3.82},{"date":"2021-10-15","model":"GL_CNN_BiLSTM","ror":3.81},{"date":"2021-10-20","model":"GL_CNN_BiLSTM","ror":3.82},{"date":"2021-10-22","model":"GL_CNN_BiLSTM","ror":3.94},{"date":"2021-10-25","model":"GL_CNN_BiLSTM","ror":3.99},{"date":"2021-10-27","model":"GL_CNN_BiLSTM","ror":4.09},{"date":"2021-10-30","model":"GL_CNN_BiLSTM","ror":4.10},
      {"date":"2021-11-01","model":"GL_CNN_BiLSTM","ror":4.06},{"date":"2021-11-03","model":"GL_CNN_BiLSTM","ror":4.10},{"date":"2021-11-07","model":"GL_CNN_BiLSTM","ror":4.10},{"date":"2021-11-10","model":"GL_CNN_BiLSTM","ror":4.10},{"date":"2021-11-12","model":"GL_CNN_BiLSTM","ror":4.32},{"date":"2021-11-14","model":"GL_CNN_BiLSTM","ror":4.35},{"date":"2021-11-17","model":"GL_CNN_BiLSTM","ror":4.40},{"date":"2021-11-19","model":"GL_CNN_BiLSTM","ror":4.34},{"date":"2021-11-22","model":"GL_CNN_BiLSTM","ror":4.35},{"date":"2021-11-25","model":"GL_CNN_BiLSTM","ror":4.41},{"date":"2021-11-26","model":"GL_CNN_BiLSTM","ror":4.32},{"date":"2021-11-29","model":"GL_CNN_BiLSTM","ror":4.20},
      {"date":"2021-12-01","model":"GL_CNN_BiLSTM","ror":4.16},{"date":"2021-12-03","model":"GL_CNN_BiLSTM","ror":4.14},{"date":"2021-12-05","model":"GL_CNN_BiLSTM","ror":4.16},{"date":"2021-12-07","model":"GL_CNN_BiLSTM","ror":4.09},{"date":"2021-12-09","model":"GL_CNN_BiLSTM","ror":4.20},{"date":"2021-12-12","model":"GL_CNN_BiLSTM","ror":4.24},{"date":"2021-12-15","model":"GL_CNN_BiLSTM","ror":4.25},{"date":"2021-12-17","model":"GL_CNN_BiLSTM","ror":4.31},{"date":"2021-12-19","model":"GL_CNN_BiLSTM","ror":4.28},{"date":"2021-12-21","model":"GL_CNN_BiLSTM","ror":4.26},{"date":"2021-12-24","model":"GL_CNN_BiLSTM","ror":4.42},{"date":"2021-12-26","model":"GL_CNN_BiLSTM","ror":4.42},{"date":"2021-12-28","model":"GL_CNN_BiLSTM","ror":4.53},{"date":"2021-12-30","model":"GL_CNN_BiLSTM","ror":4.55},{"date":"2021-12-31","model":"GL_CNN_BiLSTM","ror":4.68}
    ]
  },
  "spacing": 257,
  "bounds": "flush",
  "resolve": {"scale": {"x": "independent", "y": "independent", "color": "independent"}, "legend": {"color": "independent"}},
  "hconcat": [
    {
      "width": 1279,
      "height": 989,
      "data": {"name": "left"},
      "mark": {"type": "line", "strokeWidth": 5, "clip": true},
      "encoding": {
        "x": {"field": "date", "type": "temporal", "scale": {"type": "utc", "domain": [{"year": 2020, "month": 12, "date": 18, "utc": true}, {"year": 2022, "month": 1, "date": 18, "utc": true}]}, "axis": {"title": "Date", "format": "%Y-%m", "labelAngle": -30, "labelAlign": "right", "labelBaseline": "top", "titlePadding": 14, "values": [{"year": 2021, "month": 1, "date": 1, "utc": true}, {"year": 2021, "month": 3, "date": 1, "utc": true}, {"year": 2021, "month": 5, "date": 1, "utc": true}, {"year": 2021, "month": 7, "date": 1, "utc": true}, {"year": 2021, "month": 9, "date": 1, "utc": true}, {"year": 2021, "month": 11, "date": 1, "utc": true}, {"year": 2022, "month": 1, "date": 1, "utc": true}]}},
        "y": {"field": "ror", "type": "quantitative", "scale": {"domain": [0.765, 5.88], "zero": false, "nice": false}, "axis": {"title": "ROR", "values": [1, 2, 3, 4, 5], "format": "d", "titlePadding": 18}},
        "color": {"field": "model", "type": "nominal", "sort": ["GL_LSTM", "GL_CNN_LSTM"], "scale": {"domain": ["GL_LSTM", "GL_CNN_LSTM"], "range": ["#1f77b4", "#ff7f0e"]}}
      }
    },
    {
      "width": 1280,
      "height": 989,
      "data": {"name": "right"},
      "mark": {"type": "line", "strokeWidth": 5, "clip": true},
      "encoding": {
        "x": {"field": "date", "type": "temporal", "scale": {"type": "utc", "domain": [{"year": 2020, "month": 12, "date": 18, "utc": true}, {"year": 2022, "month": 1, "date": 18, "utc": true}]}, "axis": {"title": "Date", "format": "%Y-%m", "labelAngle": -30, "labelAlign": "right", "labelBaseline": "top", "titlePadding": 14, "values": [{"year": 2021, "month": 1, "date": 1, "utc": true}, {"year": 2021, "month": 3, "date": 1, "utc": true}, {"year": 2021, "month": 5, "date": 1, "utc": true}, {"year": 2021, "month": 7, "date": 1, "utc": true}, {"year": 2021, "month": 9, "date": 1, "utc": true}, {"year": 2021, "month": 11, "date": 1, "utc": true}, {"year": 2022, "month": 1, "date": 1, "utc": true}]}},
        "y": {"field": "ror", "type": "quantitative", "scale": {"domain": [0.815, 4.855], "zero": false, "nice": false}, "axis": {"title": null, "values": [1.0, 1.5, 2.0, 2.5, 3.0, 3.5, 4.0, 4.5], "format": ".1f"}},
        "color": {"field": "model", "type": "nominal", "sort": ["GL_BiLSTM", "GL_CNN_BiLSTM"], "scale": {"domain": ["GL_BiLSTM", "GL_CNN_BiLSTM"], "range": ["#1f77b4", "#ff7f0e"]}}
      }
    }
  ]
}
